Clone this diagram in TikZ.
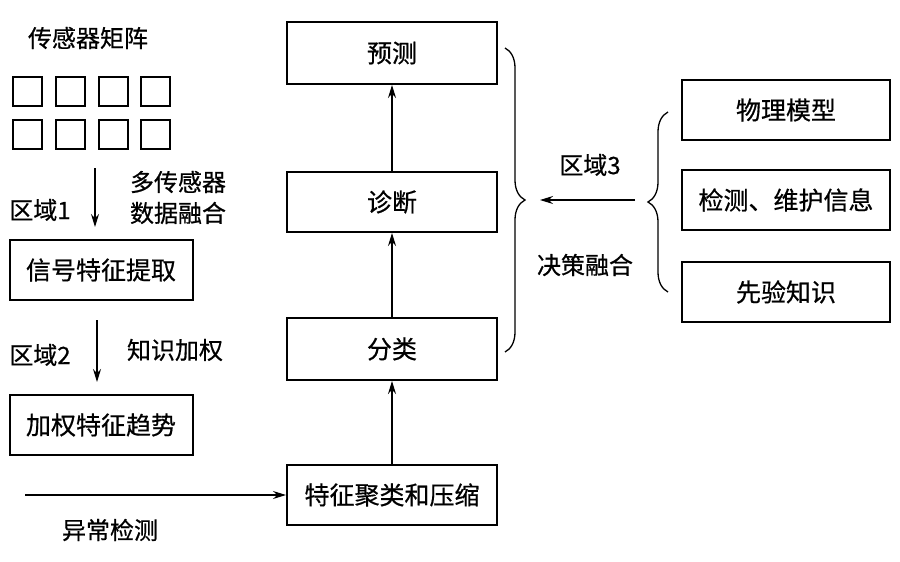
\documentclass[tikz,border=0pt]{standalone}
\usepackage{fontspec}
\setmainfont{Noto Sans CJK SC}[AutoFakeBold=0.6]
\usetikzlibrary{decorations.pathreplacing,arrows.meta}
\begin{document}
\begin{tikzpicture}[x=1pt,y=-1pt,
  box/.style={draw,line width=2pt,inner sep=0pt,font=\fontsize{25}{28}\selectfont\bfseries},
  lab/.style={font=\fontsize{24}{28}\selectfont\bfseries,inner sep=0pt},
  sq/.style={draw,line width=2pt,minimum size=29pt,inner sep=0pt},
  arr/.style={-{Stealth[length=13pt,width=8pt]},line width=1.3pt},
  br/.style={decorate,decoration={brace,amplitude=20pt},line width=1.3pt}]
\useasboundingbox (0,0) rectangle (900,562);
\node[lab] (t0) at (88,38) {传感器矩阵};
\foreach \x [count=\i] in {27,70,113,155}{
  \node[sq] (a\i) at (\x,91) {};
  \node[sq] (b\i) at (\x,134) {};
}
\node[box,minimum width=183pt,minimum height=60pt] (s1) at (101,270) {信号特征提取};
\node[box,minimum width=183pt,minimum height=60pt] (s2) at (101,425) {加权特征趋势};
\coordinate (c1) at (95,168); \coordinate (c2) at (95,227);
\draw[arr] (c1) -- (c2);
\node[lab] (z1) at (40,210) {区域1};
\node[lab] (m1) at (178,182) {多传感器};
\node[lab] (m2) at (178,213) {数据融合};
\coordinate (c3) at (97,320); \coordinate (c4) at (97,382);
\draw[arr] (c3) -- (c4);
\node[lab] (z2) at (40,355) {区域2};
\node[lab] (m3) at (175,350) {知识加权};
\node[box,minimum width=210pt,minimum height=60pt] (f) at (392,495) {特征聚类和压缩};
\node[box,minimum width=210pt,minimum height=62pt] (fl) at (392,349) {分类};
\node[box,minimum width=210pt,minimum height=60pt] (zd) at (392,202) {诊断};
\node[box,minimum width=210pt,minimum height=62pt] (yc) at (392,53) {预测};
\coordinate (c5) at (25,495);
\draw[arr] (c5) -- (f.west);
\node[lab] (yc1) at (110,530) {异常检测};
\draw[arr] (f.north) -- (fl.south);
\draw[arr] (fl.north) -- (zd.south);
\draw[arr] (zd.north) -- (yc.south);
\draw[br] (505,48) -- (505,352);
\node[box,minimum width=208pt,minimum height=60pt] (r1) at (786,110) {物理模型};
\node[box,minimum width=208pt,minimum height=60pt] (r2) at (786,200) {检测、维护信息};
\node[box,minimum width=208pt,minimum height=60pt] (r3) at (786,292) {先验知识};
\draw[br] (668,292) -- (668,112);
\coordinate (c6) at (635,200); \coordinate (c7) at (540,200);
\draw[arr] (c6) -- (c7);
\node[lab] (z3) at (590,165) {区域3};
\node[lab] (jc) at (585,265) {决策融合};
\end{tikzpicture}
\end{document}
